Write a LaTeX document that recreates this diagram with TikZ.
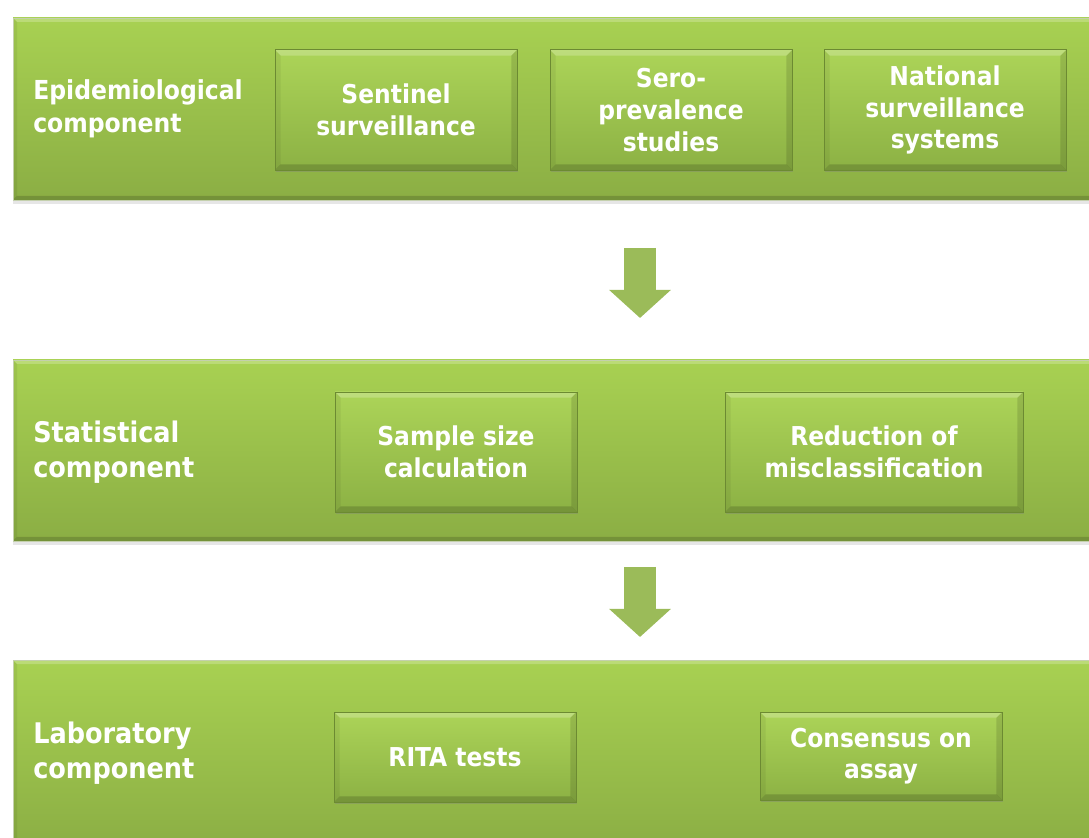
\documentclass[tikz,border=0pt]{standalone}
\usepackage{fontspec}
\newfontfamily\labelfont{DejaVu Sans Condensed}
\usetikzlibrary{arrows.meta,shadows,calc}
\definecolor{bandtop}{RGB}{168,209,82}
\definecolor{bandbot}{RGB}{139,174,68}
\definecolor{boxtop}{RGB}{172,212,88}
\definecolor{boxbot}{RGB}{140,177,68}
\definecolor{boxedge}{RGB}{108,138,50}
\definecolor{arrgreen}{RGB}{155,187,89}

\begin{document}
\begin{tikzpicture}[
  bevel/.style={path picture={
      \fill[white, opacity=0.22] (path picture bounding box.north west)
        -- (path picture bounding box.north east)
        -- ($(path picture bounding box.north east)+(-#1,-#1)$)
        -- ($(path picture bounding box.north west)+(#1,-#1)$) -- cycle;
      \fill[black, opacity=0.16] (path picture bounding box.south west)
        -- (path picture bounding box.south east)
        -- ($(path picture bounding box.south east)+(-#1,#1)$)
        -- ($(path picture bounding box.south west)+(#1,#1)$) -- cycle;
      \fill[black, opacity=0.12] (path picture bounding box.north east)
        -- (path picture bounding box.south east)
        -- ($(path picture bounding box.south east)+(-#1,#1)$)
        -- ($(path picture bounding box.north east)+(-#1,-#1)$) -- cycle;
      \fill[black, opacity=0.06] (path picture bounding box.north west)
        -- (path picture bounding box.south west)
        -- ($(path picture bounding box.south west)+(#1,#1)$)
        -- ($(path picture bounding box.north west)+(#1,-#1)$) -- cycle;}},
  band/.style={rectangle, top color=bandtop, bottom color=bandbot,
      draw=boxedge!40, line width=0.5pt, minimum width=27.2cm, bevel=0.1cm,
      drop shadow={opacity=0.2, shadow xshift=0pt, shadow yshift=-3pt}},
  sub/.style={rectangle, top color=boxtop, bottom color=boxbot,
      draw=boxedge, line width=0.7pt, minimum width=6.05cm, minimum height=3cm,
      align=center, text=white, inner sep=2pt, bevel=0.14cm,
      font=\labelfont\bfseries\fontsize{18.5}{22.5}\selectfont,
      drop shadow={opacity=0.35, shadow xshift=1pt, shadow yshift=-1.5pt}},
  head/.style={anchor=west, align=left, text=white, inner sep=0pt},
  blk/.style={line width=0.8cm, arrgreen, -{Triangle[width=1.5cm,length=0.7cm]}}]
\useasboundingbox (0,0) rectangle (27.225,20.925);
% Bands
\node[band, minimum height=4.55cm] (epi) at (13.925,18.2) {};
\node[band, minimum height=4.525cm] (stat) at (13.925,9.6625) {};
\node[band, minimum height=4.725cm] (lab) at (13.925,2.0625) {};
% Band titles
\node[head, font=\labelfont\bfseries\fontsize{18.6}{23.5}\selectfont]
     (epiname) at (0.825,18.2) {Epidemiological\\component};
\node[head, font=\labelfont\bfseries\fontsize{20.2}{24.9}\selectfont]
     (statname) at (0.825,9.625) {Statistical\\component};
\node[head, font=\labelfont\bfseries\fontsize{20.2}{24.9}\selectfont]
     (labname) at (0.825,2.1) {Laboratory\\component};
% Epidemiological boxes
\node[sub] (sent) at (9.9,18.175) {Sentinel\\surveillance};
\node[sub] (sero) at (16.775,18.175) {Sero-\\prevalence\\studies};
\node[sub] (nat) at (23.625,18.175) {National\\surveillance\\systems};
% Statistical boxes
\node[sub] (size) at (11.4,9.625) {Sample size\\calculation};
\node[sub, minimum width=7.45cm] (mis) at (21.85,9.625) {Reduction of\\misclassification};
% Laboratory boxes
\node[sub, minimum height=2.25cm] (rita) at (11.375,2.0) {RITA tests};
\node[sub, minimum height=2.2cm] (cons) at (22.025,2.025) {Consensus on\\assay};
% Block arrows
\coordinate (a1) at (16,14.725);
\coordinate (b1) at (16,12.975);
\coordinate (a2) at (16,6.75);
\coordinate (b2) at (16,5.0);
\draw[blk] (a1) -- (b1);
\draw[blk] (a2) -- (b2);
\end{tikzpicture}
\end{document}
